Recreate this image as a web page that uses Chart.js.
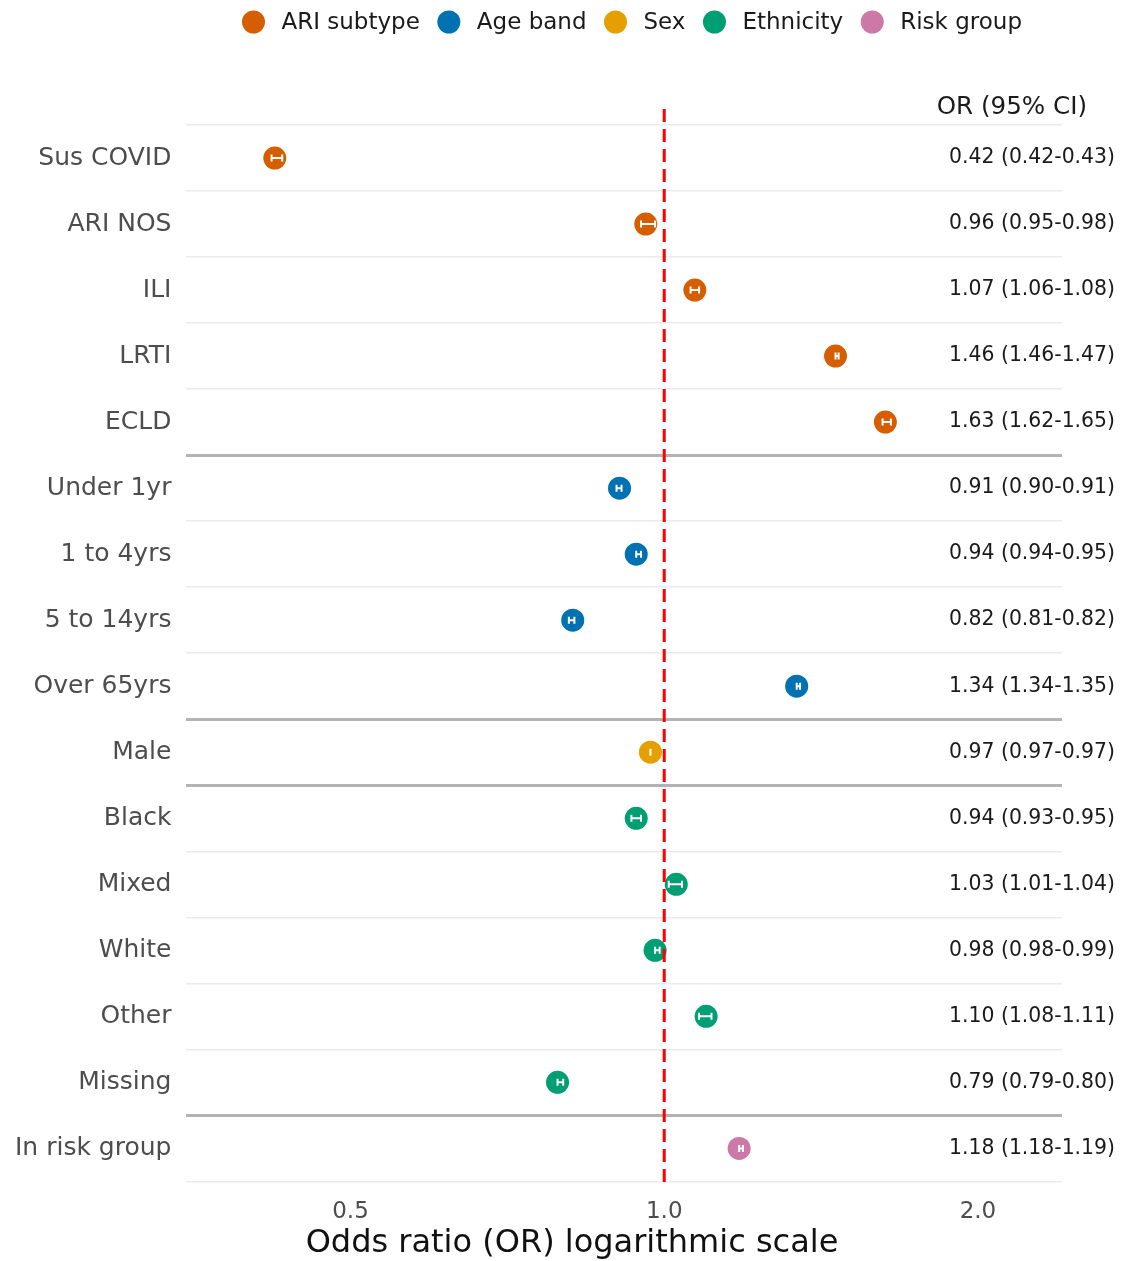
<!DOCTYPE html>
<html>
<head>
<meta charset="utf-8">
<script src="https://cdn.jsdelivr.net/npm/chart.js@4/dist/chart.umd.min.js"></script>
<style>
  html, body { margin: 0; padding: 0; background: #fff; }
  #wrap { width: 1124px; height: 1261px; }
</style>
</head>
<body>
<div id="wrap"><canvas id="chartForest"></canvas></div>
<script>
// ---- data ----
const rowLabels = ['Sus COVID', 'ARI NOS', 'ILI', 'LRTI', 'ECLD',
    'Under 1yr', '1 to 4yrs', '5 to 14yrs', 'Over 65yrs',
    'Male',
    'Black', 'Mixed', 'White', 'Other', 'Missing',
    'In risk group'];
const groupNames = ['ARI subtype', 'Age band', 'Sex', 'Ethnicity', 'Risk group'];
const groupColors = ['#D55E00', '#0072B2', '#E69F00', '#009E73', '#CC79A7'];
const rowGroup = [0, 0, 0, 0, 0, 1, 1, 1, 1, 2, 3, 3, 3, 3, 3, 4];
const oddsRatio = [0.423, 0.96, 1.07, 1.46, 1.63, 0.906, 0.94, 0.817, 1.34, 0.97, 0.94, 1.027, 0.98, 1.097, 0.79, 1.18];
const ciLow = [0.42, 0.95, 1.06, 1.46, 1.62, 0.90, 0.94, 0.81, 1.34, 0.97, 0.93, 1.01, 0.98, 1.08, 0.79, 1.18];
const ciHigh = [0.43, 0.98, 1.08, 1.47, 1.65, 0.91, 0.95, 0.82, 1.35, 0.97, 0.95, 1.04, 0.99, 1.11, 0.80, 1.19];
const xTicks = [0.5, 1.0, 2.0];
const separatorAfter = [4, 8, 9, 14];   // darker line below these rows
const xTitle = 'Odds ratio (OR) logarithmic scale';

const FONT = 'DejaVu Sans';

// one dataset per group so that colours follow the legend
const datasets = groupNames.map((name, g) => ({
    label: name,
    data: rowLabels
        .map((lab, i) => ({ x: oddsRatio[i], y: lab, lo: ciLow[i], hi: ciHigh[i], g: rowGroup[i] }))
        .filter(p => p.g === g),
    pointRadius: 11.5,
    pointHoverRadius: 11.5,
    pointBorderWidth: 0,
    pointBackgroundColor: groupColors[g],
    backgroundColor: groupColors[g],
    showLine: false
}));

// white CI whiskers inside the markers + red reference line
const forestExtras = {
    id: 'forestExtras',
    afterDatasetsDraw(chart) {
        const ctx = chart.ctx;
        const xs = chart.scales.x;
        const area = chart.chartArea;
        ctx.save();
        ctx.strokeStyle = '#ffffff';
        ctx.lineWidth = 2;
        chart.data.datasets.forEach((ds, di) => {
            const meta = chart.getDatasetMeta(di);
            ds.data.forEach((p, j) => {
                const y = meta.data[j].y;
                const x1 = xs.getPixelForValue(p.lo);
                const x2 = xs.getPixelForValue(p.hi);
                ctx.beginPath();
                ctx.moveTo(x1, y); ctx.lineTo(x2, y);
                ctx.moveTo(x1, y - 3.5); ctx.lineTo(x1, y + 3.5);
                ctx.moveTo(x2, y - 3.5); ctx.lineTo(x2, y + 3.5);
                ctx.stroke();
            });
        });
        // dashed line at OR = 1
        const x0 = xs.getPixelForValue(1);
        ctx.strokeStyle = '#ff0000';
        ctx.lineWidth = 3;
        ctx.setLineDash([13, 7]);
        ctx.beginPath();
        ctx.moveTo(x0, area.top - 16);
        ctx.lineTo(x0, area.bottom + 7);
        ctx.stroke();
        ctx.restore();
    },
    afterDraw(chart) {
        const ctx = chart.ctx;
        const ys = chart.scales.y;
        ctx.save();
        // OR (95% CI) column
        ctx.fillStyle = '#1a1a1a';
        ctx.textAlign = 'right';
        ctx.textBaseline = 'middle';
        ctx.font = '24.6px "' + FONT + '"';
        ctx.fillText('OR (95% CI)', chart.width - 37, 108);
        ctx.font = '20.4px "' + FONT + '"';
        rowLabels.forEach((lab, i) => {
            const txt = oddsRatio[i].toFixed(2) + ' (' + ciLow[i].toFixed(2) + '-' + ciHigh[i].toFixed(2) + ')';
            ctx.fillText(txt, chart.width - 9, ys.getPixelForValue(i));
        });
        // x axis title, centred on the whole plot
        ctx.textAlign = 'center';
        ctx.fillStyle = '#111';
        ctx.font = '32px "' + FONT + '"';
        ctx.fillText(xTitle, 572, 1244);
        // legend, centred over the panel
        ctx.font = '23px "' + FONT + '"';
        ctx.textAlign = 'left';
        const widths = groupNames.map(n => ctx.measureText(n).width);
        const total = widths.reduce((a, w) => a + 39.5 + w + 17.5, 0) - 17.5;
        let x = 632 - total / 2;
        groupNames.forEach((n, g) => {
            ctx.fillStyle = groupColors[g];
            ctx.beginPath();
            ctx.arc(x + 11.5, 22, 11.5, 0, Math.PI * 2);
            ctx.fill();
            ctx.fillStyle = '#1a1a1a';
            ctx.fillText(n, x + 39.5, 23);
            x += 39.5 + widths[g] + 17.5;
        });
        ctx.restore();
    }
};

document.addEventListener('DOMContentLoaded', function () {
    const canvas = document.getElementById('chartForest');
    new Chart(canvas.getContext('2d'), {
        type: 'scatter',
        data: { datasets: datasets },
        options: {
            responsive: true,
            maintainAspectRatio: false,
            animation: false,
            layout: { padding: { top: 125, left: 0, right: 62, bottom: 18 } },
            plugins: {
                legend: { display: false },
                tooltip: { enabled: false }
            },
            scales: {
                x: {
                    type: 'logarithmic',
                    bounds: 'data',
                    min: 0.348,
                    max: 2.408,
                    afterBuildTicks: axis => { axis.ticks = xTicks.map(v => ({ value: v })); },
                    ticks: {
                        color: '#4d4d4d',
                        font: { family: FONT, size: 23 },
                        padding: 17,
                        maxRotation: 0,
                        callback: v => Number(v).toFixed(1)
                    },
                    grid: { display: false, drawTicks: false },
                    border: { display: false },
                    title: { display: false }
                },
                y: {
                    type: 'category',
                    labels: rowLabels,
                    offset: true,
                    ticks: {
                        color: '#4d4d4d',
                        font: { family: FONT, size: 25 },
                        padding: 15
                    },
                    grid: {
                        offset: true,
                        drawTicks: false,
                        color: c => (c.index !== undefined && separatorAfter.includes(c.index - 1)) ? '#b3b3b3' : '#ebebeb',
                        lineWidth: c => (c.index !== undefined && separatorAfter.includes(c.index - 1)) ? 3 : 1.5
                    },
                    border: { display: false }
                }
            }
        },
        plugins: [forestExtras]
    });
});
</script>
</body>
</html>
